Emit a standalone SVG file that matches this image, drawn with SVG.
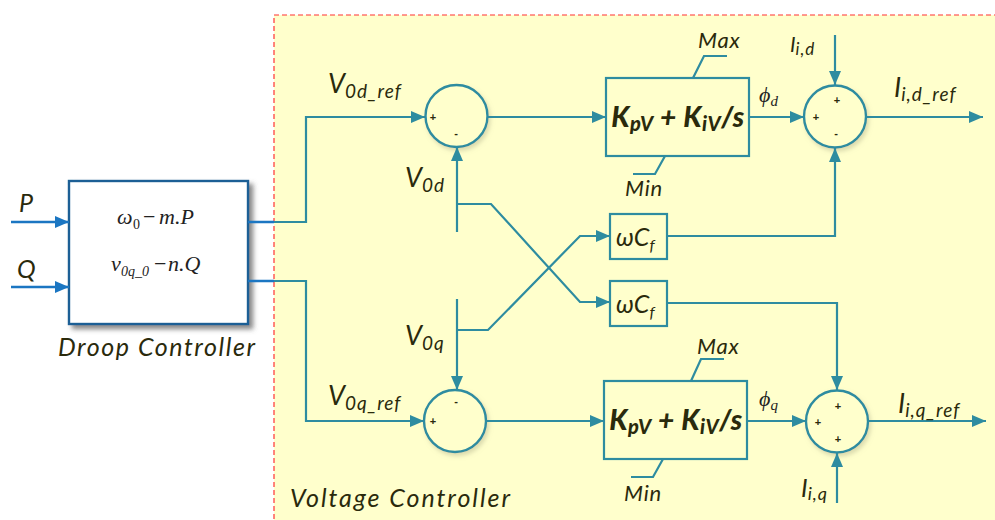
<svg xmlns="http://www.w3.org/2000/svg" width="995" height="520" viewBox="0 0 995 520">
<defs>
<marker id="ah" markerWidth="14" markerHeight="12" refX="14" refY="6" orient="auto" markerUnits="userSpaceOnUse"><path d="M0,0 L14,6 L0,12 Z" fill="#2e8ca0"/></marker>
<marker id="ahb" markerWidth="14" markerHeight="12" refX="14" refY="6" orient="auto" markerUnits="userSpaceOnUse"><path d="M0,0 L14,6 L0,12 Z" fill="#1b76c2"/></marker>
<filter id="sh" x="-10%" y="-10%" width="130%" height="130%"><feDropShadow dx="4" dy="4" stdDeviation="2.5" flood-color="#555" flood-opacity="0.7"/></filter>
<filter id="glow" x="-20%" y="-20%" width="150%" height="150%"><feDropShadow dx="2" dy="3" stdDeviation="2" flood-color="#b8b890" flood-opacity="0.5"/></filter>
</defs>
<style>
.ln{fill:none;stroke:#2e8ca0;stroke-width:2.2}
.lb{fill:none;stroke:#1b76c2;stroke-width:2.4}
.sum{fill:#ffffcc;stroke:#2e8ca0;stroke-width:2.4}
.box{fill:#ffffcc;stroke:#2e8ca0;stroke-width:2.2}
.t{font-family:Lato,"Open Sans",sans-serif;font-style:italic;fill:#2a2a0c}
.sub{letter-spacing:1px}
.lim{font-size:22px;letter-spacing:0.8px}
.s{font-family:"Liberation Sans",sans-serif;font-size:11px;fill:#2a2a0c;text-anchor:middle;font-weight:bold}
.m{font-family:"Liberation Serif",serif;fill:#222;font-size:22px}
.pi{font-family:Lato,"Open Sans",sans-serif;font-style:italic;font-weight:900;fill:#2a2a0c;font-size:28px;letter-spacing:0.5px}
</style>
<rect x="274" y="15" width="740" height="520" fill="#ffffcc" stroke="#ff3333" stroke-width="1.2" stroke-dasharray="5,3"/>

<g id="droop">
<rect x="69" y="181" width="179" height="143" fill="#ffffff" stroke="#1a5f95" stroke-width="2.4" filter="url(#sh)"/>
<text class="m" y="224"><tspan x="117" font-style="italic">ω</tspan><tspan x="133" font-size="14" dy="5">0</tspan><tspan x="143" dy="-5">−</tspan><tspan x="159" font-style="italic">m.P</tspan></text>
<text class="m" y="271"><tspan x="111" font-style="italic">v</tspan><tspan x="121" font-size="14" dy="5" font-style="italic">0q_0</tspan><tspan x="154" dy="-5">−</tspan><tspan x="168" font-style="italic">n.Q</tspan></text>
<text class="t" x="58" y="356" font-size="25" textLength="197" lengthAdjust="spacing">Droop Controller</text>
</g>

<g id="inputs">
<text class="t" x="19" y="212" font-size="25">P</text>
<text class="t" x="17" y="278" font-size="25">Q</text>
</g>

<g id="sum1">
<circle class="sum" cx="456.5" cy="116" r="31" filter="url(#glow)"/>
<text class="s" x="433" y="121">+</text>
<text class="s" x="456" y="137">-</text>
</g>
<g id="sum2">
<circle class="sum" cx="835" cy="116.5" r="31" filter="url(#glow)"/>
<text class="s" x="837" y="104">+</text>
<text class="s" x="816" y="121">+</text>
<text class="s" x="836" y="137">-</text>
</g>
<g id="sum3">
<circle class="sum" cx="455" cy="421" r="31" filter="url(#glow)"/>
<text class="s" x="456" y="405">-</text>
<text class="s" x="433" y="425">+</text>
</g>
<g id="sum4">
<circle class="sum" cx="837" cy="421.5" r="31" filter="url(#glow)"/>
<text class="s" x="838" y="410">+</text>
<text class="s" x="818" y="426">+</text>
<text class="s" x="838" y="443">+</text>
</g>

<g id="pi1">
<rect class="box" x="606" y="78" width="143" height="78"/>
<path class="ln" d="M693,78 L704,56 H727 M665,156 L655,174 H633"/>
<text class="pi" x="678" y="127" text-anchor="middle">K<tspan font-size="20" dy="4">pV</tspan><tspan dy="-4"> + K</tspan><tspan font-size="20" dy="4">iV</tspan><tspan dy="-4">/s</tspan></text>
<text class="t lim" x="698" y="48">Max</text>
<text class="t lim" x="625" y="196">Min</text>
</g>
<g id="pi2">
<rect class="box" x="604" y="381" width="143" height="78"/>
<path class="ln" d="M691,381 L701,359 H724 M663,459 L653,477 H631"/>
<text class="pi" x="676" y="430" text-anchor="middle">K<tspan font-size="20" dy="4">pV</tspan><tspan dy="-4"> + K</tspan><tspan font-size="20" dy="4">iV</tspan><tspan dy="-4">/s</tspan></text>
<text class="t lim" x="697" y="354">Max</text>
<text class="t lim" x="624" y="501">Min</text>
</g>

<g id="wcf1">
<rect class="box" x="610" y="214" width="57" height="45"/>
<text class="t" x="616" y="246" font-size="25">ωC<tspan font-size="16" dy="5">f</tspan></text>
</g>
<g id="wcf2">
<rect class="box" x="610" y="281" width="57" height="45"/>
<text class="t" x="616" y="313" font-size="25">ωC<tspan font-size="16" dy="5">f</tspan></text>
</g>

<g id="connectors">
<path class="lb" d="M11,222 H69" marker-end="url(#ahb)"/>
<path class="lb" d="M11,287 H69" marker-end="url(#ahb)"/>
<path class="lb" d="M248,222 H274 M248,281 H274"/>
<path class="ln" d="M274,222 H306 V117 H425" marker-end="url(#ah)"/>
<path class="ln" d="M274,281 H306 V421 H424" marker-end="url(#ah)"/>
<path class="ln" d="M488,117 H606" marker-end="url(#ah)"/>
<path class="ln" d="M749,117 H804" marker-end="url(#ah)"/>
<path class="ln" d="M866,117 H983" marker-end="url(#ah)"/>
<path class="ln" d="M835,35 V85" marker-end="url(#ah)"/>
<path class="ln" d="M457,232 V147" marker-end="url(#ah)"/>
<path class="ln" d="M457,204 H491 L580,302 H610" marker-end="url(#ah)"/>
<path class="ln" d="M457,299 V390" marker-end="url(#ah)"/>
<path class="ln" d="M457,330 H488 L580,236 H610" marker-end="url(#ah)"/>
<path class="ln" d="M667,236 H835 V148" marker-end="url(#ah)"/>
<path class="ln" d="M667,303 H837 V390" marker-end="url(#ah)"/>
<path class="ln" d="M486,421 H604" marker-end="url(#ah)"/>
<path class="ln" d="M747,421 H806" marker-end="url(#ah)"/>
<path class="ln" d="M868,421 H986" marker-end="url(#ah)"/>
<path class="ln" d="M837,503 V453" marker-end="url(#ah)"/>
</g>

<g id="labels">
<text class="t" x="328" y="93" font-size="27">V<tspan class="sub" font-size="19" dy="5">0d_ref</tspan></text>
<text class="t" x="405" y="187" font-size="27">V<tspan class="sub" font-size="19" dy="5">0d</tspan></text>
<text class="t" x="405" y="345" font-size="27">V<tspan class="sub" font-size="19" dy="5">0q</tspan></text>
<text class="t" x="328" y="405" font-size="27">V<tspan class="sub" font-size="19" dy="5">0q_ref</tspan></text>
<text class="m" x="759" y="102" font-size="26" font-style="italic">ϕ<tspan font-size="15" dy="4">d</tspan></text>
<text class="m" x="759" y="406" font-size="26" font-style="italic">ϕ<tspan font-size="15" dy="4">q</tspan></text>
<text class="t" x="790" y="52" font-size="21">I<tspan class="sub" font-size="17" dy="3">i,d</tspan></text>
<text class="t" x="894" y="97" font-size="27">I<tspan class="sub" font-size="19" dy="4">i,d_ref</tspan></text>
<text class="t" x="898" y="413" font-size="27">I<tspan class="sub" font-size="19" dy="4">i,q_ref</tspan></text>
<text class="t" x="801" y="497" font-size="25">I<tspan class="sub" font-size="18" dy="3">i,q</tspan></text>
<text class="t" x="290" y="507" font-size="25" textLength="220" lengthAdjust="spacing">Voltage Controller</text>
</g>
</svg>
